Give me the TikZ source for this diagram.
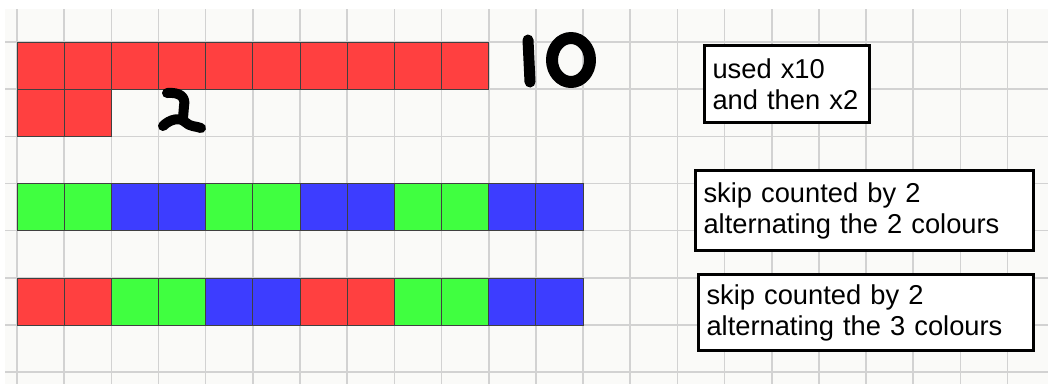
\documentclass[tikz,border=0pt]{standalone}
\usepackage{fontspec}
\setmainfont{Liberation Sans}
\usetikzlibrary{positioning}
\definecolor{paperWhite}{HTML}{FAFAF8}
\definecolor{gridGray}{HTML}{D2D2D2}
\definecolor{cellRed}{HTML}{FF4040}
\definecolor{cellGreen}{HTML}{40FF40}
\definecolor{cellBlue}{HTML}{3D3DFF}

\begin{document}
\begin{tikzpicture}[
    x=1pt, y=-1pt,
    cell/.style={draw=black!75, line width=0.9pt},
    gridline/.style={draw=gridGray, line width=1.6pt},
    note/.style={draw=black, line width=3pt, fill=white, anchor=north west, align=left,
                 inner xsep=8pt, inner ysep=0pt, font=\fontsize{27.3}{31}\selectfont},
    ink/.style={draw=black, line width=11pt, line cap=round, line join=round}
]
    \useasboundingbox (0,0) rectangle (1048,384);
    \fill[white] (0,0) rectangle (1048,384);
    \fill[paperWhite] (5,9) rectangle (1048,384);

    % squared paper
    \foreach \i in {0,...,21} \draw[gridline] ({17+47.17*\i},9) -- ({17+47.17*\i},384);
    \foreach \j in {0,...,7} \draw[gridline] (5,{42+47.17*\j}) -- (1048,{42+47.17*\j});

    % rows of squares
    \foreach \i in {0,...,9} \draw[cell, fill=cellRed] ({17+47.17*\i},42) rectangle ++(47.17,47.17);
    \foreach \i in {0,1} \draw[cell, fill=cellRed] ({17+47.17*\i},89.17) rectangle ++(47.17,47.17);
    \foreach \c [count=\i from 0] in {cellGreen,cellGreen,cellBlue,cellBlue,cellGreen,cellGreen,
                                      cellBlue,cellBlue,cellGreen,cellGreen,cellBlue,cellBlue}
        \draw[cell, fill=\c] ({17+47.17*\i},183.5) rectangle ++(47.17,47.17);
    \foreach \c [count=\i from 0] in {cellRed,cellRed,cellGreen,cellGreen,cellBlue,cellBlue,
                                      cellRed,cellRed,cellGreen,cellGreen,cellBlue,cellBlue}
        \draw[cell, fill=\c] ({17+47.17*\i},278) rectangle ++(47.17,47.17);

    % handwritten 10 and 2
    \draw[ink] (528,40) -- (530,82);
    \draw[ink, line width=12pt] (571,60) ellipse [x radius=19, y radius=22];
    \draw[ink, line width=10pt] (167,93) .. controls (180,92) and (186,97) .. (184,106) -- (183,118);
    \draw[ink, line width=10pt] (163,126) .. controls (170,119) and (180,117) .. (185,122)
        .. controls (190,127) and (196,126) .. (201,128);

    % notes
    \node[note, text width=149pt, minimum height=77pt] (usedNote) at (703,44) {used x10\\and then x2};
    \node[note, text width=322pt, minimum height=80pt] (skipTwoNote) at (694,169) {skip counted by 2\\alternating the 2 colours};
    \node[note, text width=319pt, minimum height=76pt] (skipThreeNote) at (697,273) {skip counted by 2\\alternating the 3 colours};
\end{tikzpicture}
\end{document}
